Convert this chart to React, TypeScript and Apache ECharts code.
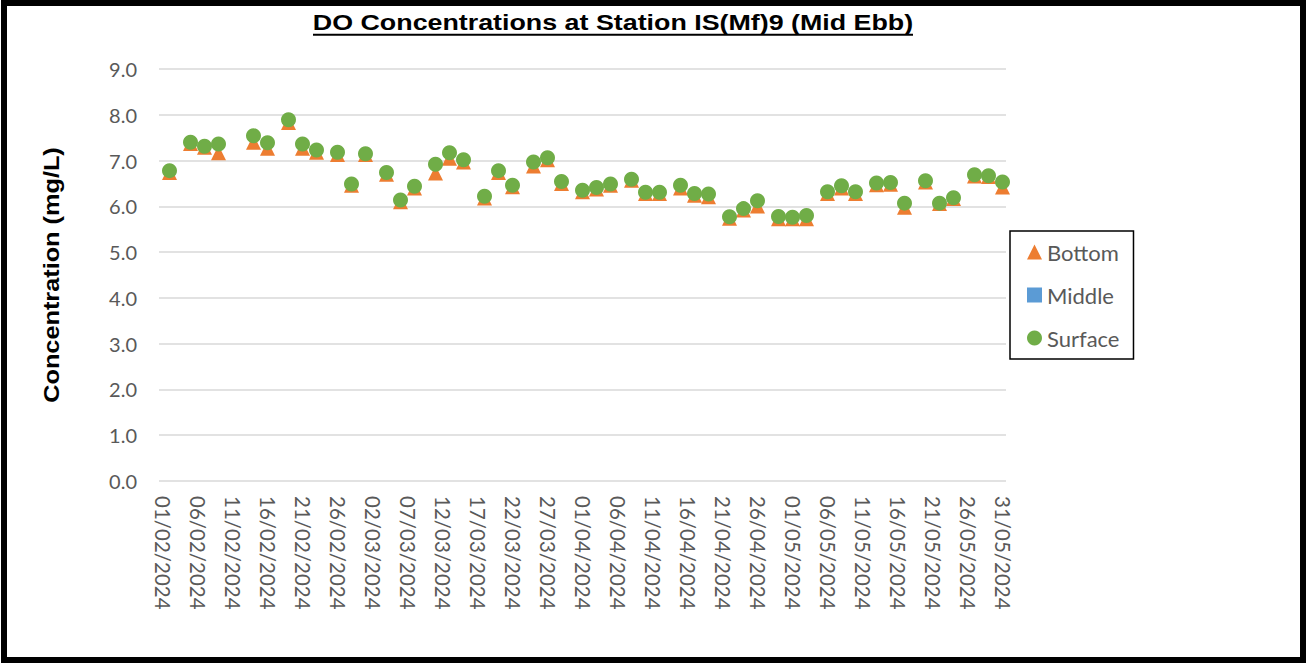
import React, { useEffect, useRef } from "react";
import * as echarts from "echarts";

const TITLE = "DO Concentrations at Station IS(Mf)9 (Mid Ebb)";
const Y_NAME = "Concentration (mg/L)";
const SERIES_NAMES = ["Bottom", "Middle", "Surface"];

const sampleDates = [
  "02/02/2024", "05/02/2024", "07/02/2024", "09/02/2024", "14/02/2024", "16/02/2024",
  "19/02/2024", "21/02/2024", "23/02/2024", "26/02/2024", "28/02/2024",
  "01/03/2024", "04/03/2024", "06/03/2024", "08/03/2024", "11/03/2024", "13/03/2024",
  "15/03/2024", "18/03/2024", "20/03/2024", "22/03/2024", "25/03/2024", "27/03/2024", "29/03/2024",
  "01/04/2024", "03/04/2024", "05/04/2024", "08/04/2024", "10/04/2024", "12/04/2024",
  "15/04/2024", "17/04/2024", "19/04/2024", "22/04/2024", "24/04/2024", "26/04/2024", "29/04/2024",
  "01/05/2024", "03/05/2024", "06/05/2024", "08/05/2024", "10/05/2024", "13/05/2024",
  "15/05/2024", "17/05/2024", "20/05/2024", "22/05/2024", "24/05/2024", "27/05/2024",
  "29/05/2024", "31/05/2024",
];

const surface = [
  6.78, 7.40, 7.31, 7.36, 7.54, 7.39, 7.89, 7.36, 7.23, 7.18, 6.49,
  7.15, 6.74, 6.14, 6.44, 6.92, 7.17, 7.02, 6.22, 6.78, 6.46, 6.97, 7.06, 6.54,
  6.35, 6.41, 6.49, 6.59, 6.31, 6.31, 6.46, 6.28, 6.27, 5.77, 5.95, 6.12, 5.78,
  5.76, 5.80, 6.32, 6.45, 6.32, 6.51, 6.52, 6.07, 6.56, 6.07, 6.19, 6.69, 6.67, 6.53,
];

const bottom = [
  6.74, 7.37, 7.29, 7.17, 7.40, 7.27, 7.83, 7.27, 7.18, 7.13, 6.46,
  7.13, 6.70, 6.10, 6.40, 6.73, 7.05, 6.97, 6.18, 6.74, 6.43, 6.88, 7.02, 6.50,
  6.32, 6.38, 6.46, 6.57, 6.28, 6.28, 6.40, 6.24, 6.21, 5.74, 5.92, 6.01, 5.73,
  5.73, 5.73, 6.28, 6.40, 6.28, 6.47, 6.48, 5.98, 6.53, 6.06, 6.17, 6.66, 6.65, 6.42,
];

// Middle depth: no values plotted in the reference
const middle: number[] = [];

const Y_MIN = 0;
const Y_MAX = 9;
const Y_STEP = 1;
const AXIS_START = "2024-02-01";
const AXIS_END = "2024-05-31";

function buildCategories(): string[] {
  const out: string[] = [];
  const d = new Date(AXIS_START + "T00:00:00Z");
  const end = new Date(AXIS_END + "T00:00:00Z");
  while (d.getTime() <= end.getTime()) {
    const dd = String(d.getUTCDate()).padStart(2, "0");
    const mm = String(d.getUTCMonth() + 1).padStart(2, "0");
    out.push(`${dd}/${mm}/${d.getUTCFullYear()}`);
    d.setUTCDate(d.getUTCDate() + 1);
  }
  return out;
}

export default function App() {
  const ref = useRef<HTMLDivElement>(null);

  useEffect(() => {
    document.body.style.margin = "0";
    if (!ref.current) return;
    const chart = echarts.init(ref.current, undefined, { renderer: "svg" });
    const categories = buildCategories();
    const pair = (vals: number[]) => vals.map((v, i) => [sampleDates[i], v]);

    const labelFont = "Lato";
    const grey = "#595959";

    chart.setOption({
      animation: false,
      backgroundColor: "#ffffff",
      grid: { left: 159, right: 300, top: 69, bottom: 186, containLabel: false },
      legend: {
        orient: "vertical",
        left: 1010,
        top: 231,
        data: [
          { name: "Bottom", icon: "triangle" },
          { name: "Middle", icon: "rect" },
          { name: "Surface", icon: "circle" },
        ],
        itemWidth: 15,
        itemHeight: 15,
        itemGap: 19,
        padding: [9, 14, 9, 17],
        borderColor: "#000000",
        borderWidth: 1.5,
        textStyle: { fontFamily: labelFont, fontSize: 22, color: grey, lineHeight: 24 },
      },
      xAxis: {
        type: "category",
        data: categories,
        boundaryGap: true,
        axisLine: { show: false },
        axisTick: { show: false },
        splitLine: { show: false },
        axisLabel: {
          interval: 4,
          rotate: -90,
          margin: 15,
          fontFamily: labelFont,
          fontSize: 20.5,
          color: grey,
        },
      },
      yAxis: {
        type: "value",
        min: Y_MIN,
        max: Y_MAX,
        interval: Y_STEP,
        axisLine: { show: false },
        axisTick: { show: false },
        splitLine: { lineStyle: { color: "#d9d9d9", width: 1.5 } },
        axisLabel: {
          margin: 22,
          fontFamily: labelFont,
          fontSize: 20,
          color: grey,
          formatter: (v: number) => v.toFixed(1),
        },
      },
      series: [
        {
          name: SERIES_NAMES[0],
          type: "scatter",
          symbol: "triangle",
          symbolSize: 15,
          itemStyle: { color: "#ed7d31", opacity: 1 },
          data: pair(bottom),
          z: 2,
        },
        {
          name: SERIES_NAMES[1],
          type: "scatter",
          symbol: "rect",
          symbolSize: 14,
          itemStyle: { color: "#5b9bd5", opacity: 1 },
          data: pair(middle),
          z: 3,
        },
        {
          name: SERIES_NAMES[2],
          type: "scatter",
          symbol: "circle",
          symbolSize: 15,
          itemStyle: { color: "#70ad47", opacity: 1 },
          data: pair(surface),
          z: 4,
        },
      ],
      graphic: [
        {
          type: "rect",
          shape: { x: 4, y: 3, width: 1299, height: 657 },
          style: { fill: "none", stroke: "#000000", lineWidth: 6 },
          silent: true,
        },
        {
          type: "text",
          x: 613,
          y: 22.5,
          scaleX: 1.22,
          style: {
            text: TITLE,
            font: 'bold 22px "Liberation Sans", Arial, sans-serif',
            fill: "#000000",
            textAlign: "center",
            textVerticalAlign: "middle",
          },
        },
        {
          type: "line",
          shape: { x1: 313, y1: 34.7, x2: 913, y2: 34.7 },
          style: { stroke: "#000000", lineWidth: 2 },
        },
        {
          type: "text",
          x: 52,
          y: 275,
          rotation: Math.PI / 2,
          scaleX: 1.15,
          style: {
            text: Y_NAME,
            font: 'bold 22px "Liberation Sans", Arial, sans-serif',
            fill: "#000000",
            textAlign: "center",
            textVerticalAlign: "middle",
          },
        },
      ],
    });

    return () => chart.dispose();
  }, []);

  return <div ref={ref} style={{ width: 1306, height: 667 }} />;
}
